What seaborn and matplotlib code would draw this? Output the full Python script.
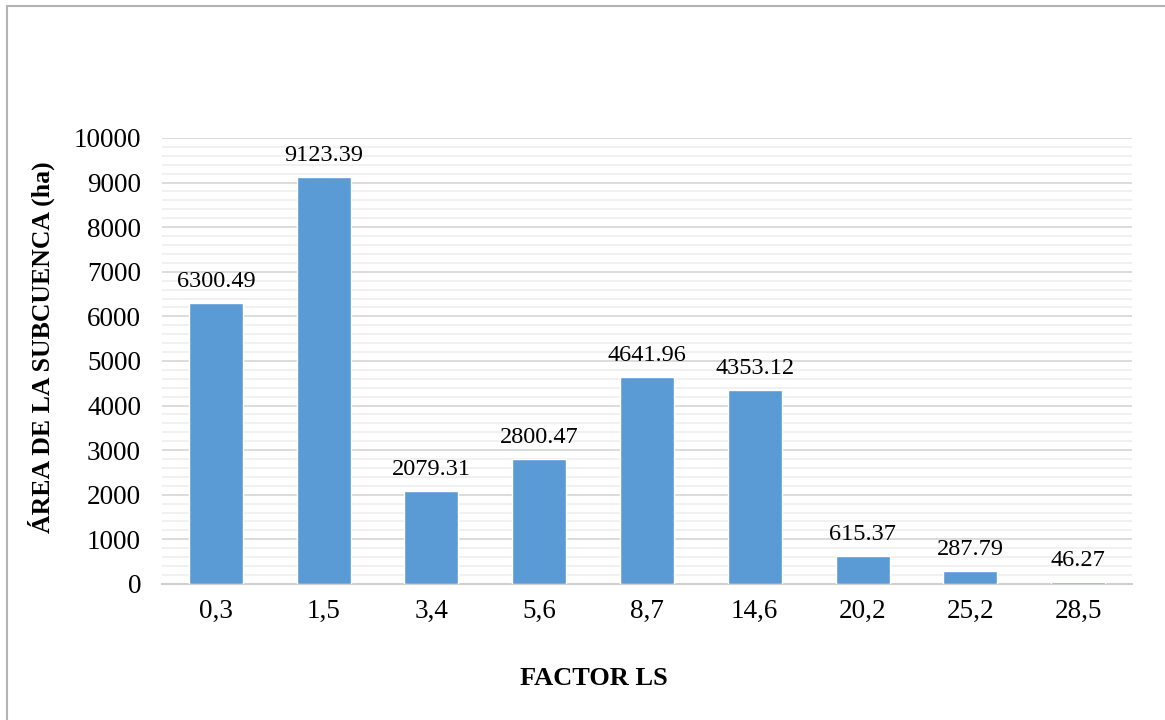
import matplotlib
matplotlib.use("Agg")
import matplotlib.pyplot as plt
from matplotlib.patches import Rectangle
from matplotlib.ticker import MultipleLocator
import seaborn as sns
import pandas as pd

factor_ls = ["0,3", "1,5", "3,4", "5,6", "8,7", "14,6", "20,2", "25,2", "28,5"]
area_ha = [6300.49, 9123.39, 2079.31, 2800.47, 4641.96, 4353.12, 615.37, 287.79, 46.27]
value_labels = ["6300.49", "9123.39", "2079.31", "2800.47", "4641.96",
                "4353.12", "615.37", "287.79", "46.27"]

sns.set_theme(style="white")
plt.rcParams["font.family"] = ["Liberation Serif", "DejaVu Serif"]

df = pd.DataFrame({"factor": factor_ls, "area": area_ha})

fig = plt.figure(figsize=(11.65, 7.2), dpi=100)
ax = fig.add_axes([0.139, 0.189, 0.8327, 0.6194])

sns.barplot(data=df, x="factor", y="area", color="#5B9BD5", saturation=1,
            width=0.5, ax=ax, zorder=3)

ax.set_ylim(0, 10000)
ax.set_xlim(-0.5, len(factor_ls) - 0.5)
ax.yaxis.set_major_locator(MultipleLocator(1000))
ax.yaxis.set_minor_locator(MultipleLocator(200))
ax.grid(which="major", axis="y", color="#d9d9d9", linewidth=1.3, zorder=0)
ax.grid(which="minor", axis="y", color="#f0f0f0", linewidth=1.3, zorder=0)
ax.grid(which="major", axis="x", visible=False)

for side in ["top", "right", "left"]:
    ax.spines[side].set_visible(False)
ax.spines["bottom"].set_color("#d0d0d0")
ax.spines["bottom"].set_linewidth(1.5)
ax.spines["bottom"].set_zorder(2)

ax.tick_params(axis="both", which="both", length=0, labelsize=19.5,
               colors="black")
ax.tick_params(axis="x", pad=11)
ax.tick_params(axis="y", pad=15)

for i, (v, lab) in enumerate(zip(area_ha, value_labels)):
    ax.annotate(lab, xy=(i, v), xytext=(0, 8), textcoords="offset points",
                ha="center", va="bottom", fontsize=17.5, color="black")

ax.set_xlabel("FACTOR LS", fontsize=19, fontweight="bold", color="black")
ax.set_ylabel("ÁREA DE LA SUBCUENCA (ha)", fontsize=18.5, fontweight="bold",
              color="black")
ax.xaxis.set_label_coords(0.445, -0.211)
ax.yaxis.set_label_coords(-0.124, 0.531)
ax.xaxis.label.set_va("center")
ax.yaxis.label.set_va("center")

# chart frame
fig.patches.append(Rectangle((7 / 1165, -0.02), 1.05, 1 - 6 / 720 + 0.02,
                             transform=fig.transFigure, fill=False,
                             edgecolor="#b3b3b3", linewidth=1.5, zorder=10))

fig.savefig("out.png", dpi=100)
